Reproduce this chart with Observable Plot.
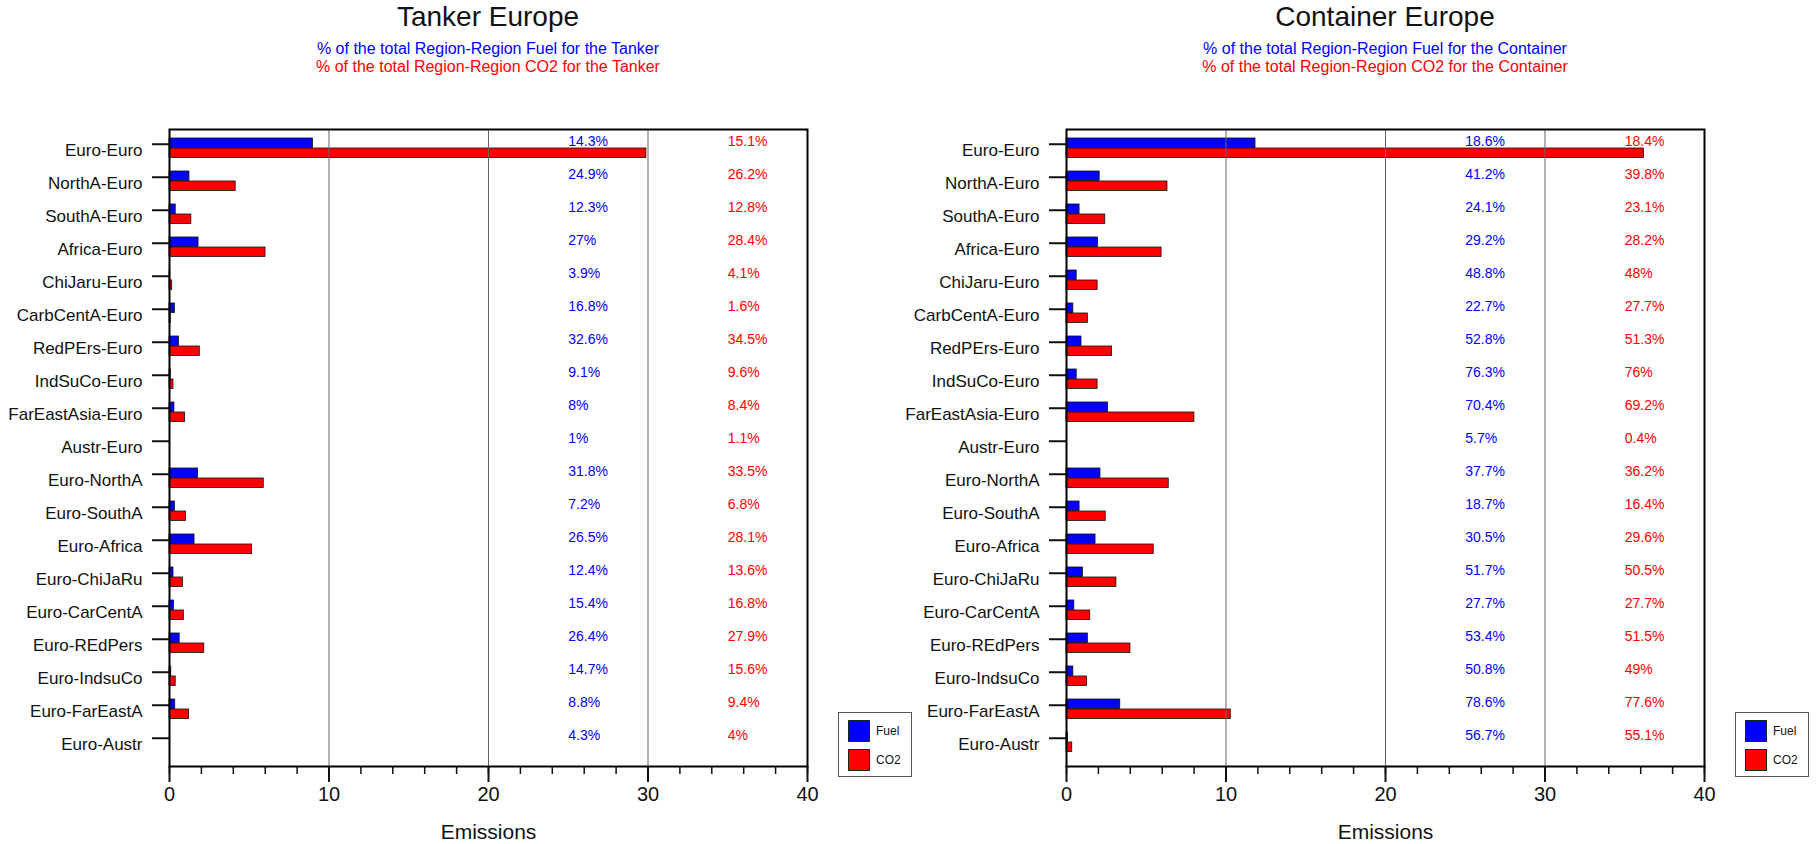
<!DOCTYPE html>
<html>
<head>
<meta charset="utf-8">
<script src="https://cdn.jsdelivr.net/npm/d3@7"></script>
<script src="https://cdn.jsdelivr.net/npm/@observablehq/plot@0.6"></script>
<style>
  body { margin: 0; background: #fff; font-family: "Liberation Sans", Arial, sans-serif; }
  #root { position: relative; width: 1816px; height: 844px; overflow: hidden; background: #fff; }
  .plot { position: absolute; top: 100px; }
  .ttl { position: absolute; width: 700px; text-align: center; white-space: nowrap; }
  .ttl.main { font-size: 28px; line-height: 28px; color: #111; }
  .ttl.sub { font-size: 16px; line-height: 16px; }
  .legend { position: absolute; width: 72px; height: 63px; border: 1px solid #555; background: #fff; }
  .legend .row { position: absolute; left: 9px; height: 23px; display: flex; align-items: center; font-size: 12px; color: #111; }
  .legend .sw { width: 22px; height: 22px; border: 1px solid #222; margin-right: 6px; box-sizing: border-box; }
</style>
</head>
<body>
<div id="root"></div>
<script>
// ---------------- data ----------------
const categories = ["Euro-Euro","NorthA-Euro","SouthA-Euro","Africa-Euro","ChiJaru-Euro","CarbCentA-Euro","RedPErs-Euro","IndSuCo-Euro","FarEastAsia-Euro","Austr-Euro","Euro-NorthA","Euro-SouthA","Euro-Africa","Euro-ChiJaRu","Euro-CarCentA","Euro-REdPers","Euro-IndsuCo","Euro-FarEastA","Euro-Austr"];

const tankerFuel = [9.0, 1.25, 0.39, 1.82, 0.05, 0.34, 0.59, 0.08, 0.31, 0, 1.79, 0.34, 1.57, 0.25, 0.28, 0.64, 0.11, 0.36, 0];
const tankerCO2  = [29.9, 4.15, 1.37, 6.02, 0.17, 0.08, 1.9, 0.25, 0.98, 0, 5.91, 1.04, 5.18, 0.84, 0.9, 2.18, 0.39, 1.23, 0];
const tankerFuelPct = [14.3, 24.9, 12.3, 27, 3.9, 16.8, 32.6, 9.1, 8, 1, 31.8, 7.2, 26.5, 12.4, 15.4, 26.4, 14.7, 8.8, 4.3];
const tankerCO2Pct  = [15.1, 26.2, 12.8, 28.4, 4.1, 1.6, 34.5, 9.6, 8.4, 1.1, 33.5, 6.8, 28.1, 13.6, 16.8, 27.9, 15.6, 9.4, 4];

const containerFuel = [11.85, 2.08, 0.82, 1.98, 0.64, 0.43, 0.94, 0.64, 2.61, 0, 2.13, 0.82, 1.82, 1.03, 0.49, 1.34, 0.43, 3.37, 0.09];
const containerCO2  = [36.2, 6.33, 2.43, 5.96, 1.95, 1.34, 2.86, 1.95, 8.02, 0, 6.41, 2.46, 5.47, 3.13, 1.49, 4.01, 1.28, 10.3, 0.36];
const containerFuelPct = [18.6, 41.2, 24.1, 29.2, 48.8, 22.7, 52.8, 76.3, 70.4, 5.7, 37.7, 18.7, 30.5, 51.7, 27.7, 53.4, 50.8, 78.6, 56.7];
const containerCO2Pct  = [18.4, 39.8, 23.1, 28.2, 48, 27.7, 51.3, 76, 69.2, 0.4, 36.2, 16.4, 29.6, 50.5, 27.7, 51.5, 49, 77.6, 55.1];

const xDomain = [0, 40];
const xTicks = [0, 10, 20, 30, 40];
const xMinorTicks = [0, 2, 4, 6, 8, 10, 12, 14, 16, 18, 20, 22, 24, 26, 28, 30, 32, 34, 36, 38, 40];
const gridTicks = [10, 20, 30];
const seriesNames = ["Fuel", "CO2"];
const seriesColors = ["#0000ff", "#ff0000"];
const fuelLabelX = 25;
const co2LabelX = 35;
const xLabel = "Emissions";

const panels = [
  {title: "Tanker Europe", ship: "Tanker", fuel: tankerFuel, co2: tankerCO2, fp: tankerFuelPct, cp: tankerCO2Pct, left: 0, marginLeft: 169, center: 488},
  {title: "Container Europe", ship: "Container", fuel: containerFuel, co2: containerCO2, fp: containerFuelPct, cp: containerCO2Pct, left: 908, marginLeft: 158, center: 1385}
];

// ---------------- drawing ----------------
const root = document.getElementById("root");
const W = 908, H = 744, plotW = 638, mTop = 29, mBottom = 78;
const innerH = H - mTop - mBottom;
const bw = innerH / categories.length;
const font = '"Liberation Sans", Arial, sans-serif';

for (const p of panels) {
  const rows = categories.map((c, i) => ({cat: c, fuel: p.fuel[i], co2: p.co2[i], fp: p.fp[i], cp: p.cp[i]}));
  const chart = Plot.plot({
    width: W, height: H,
    marginLeft: p.marginLeft, marginRight: W - p.marginLeft - plotW,
    marginTop: mTop, marginBottom: mBottom,
    style: {fontFamily: font, background: "transparent", color: "#111", overflow: "visible"},
    x: {domain: xDomain, label: null},
    y: {type: "band", domain: categories, padding: 0, label: null},
    marks: [
      Plot.barX(rows.filter(d => d.fuel > 0), {x: "fuel", y: "cat", fill: seriesColors[0], stroke: "#111", strokeWidth: 0.8, insetTop: 4, insetBottom: bw - 14}),
      Plot.barX(rows.filter(d => d.co2 > 0), {x: "co2", y: "cat", fill: seriesColors[1], stroke: "#111", strokeWidth: 0.8, insetTop: 14, insetBottom: bw - 24}),
      Plot.gridX(gridTicks, {stroke: "#666", strokeOpacity: 1, strokeWidth: 1}),
      Plot.text(rows, {x: fuelLabelX, y: "cat", text: d => d.fp + "%", fill: seriesColors[0], fontSize: 14, textAnchor: "start", dy: 7 - bw / 2}),
      Plot.text(rows, {x: co2LabelX, y: "cat", text: d => d.cp + "%", fill: seriesColors[1], fontSize: 14, textAnchor: "start", dy: 7 - bw / 2}),
      Plot.axisX({ticks: xMinorTicks, tickSize: 8, strokeWidth: 1.5, text: null, label: null}),
      Plot.axisX({ticks: xTicks, tickSize: 16, strokeWidth: 2, fontSize: 20, tickPadding: 4, label: null, tickFormat: d => String(d)}),
      Plot.axisY({tickSize: 0, tickPadding: 27, fontSize: 17, label: null}),
      Plot.axisY({tickSize: 17, strokeWidth: 2, text: null, label: null, dy: 10 - bw / 2}),
      Plot.frame({stroke: "#000", strokeWidth: 2}),
      Plot.text([xLabel], {frameAnchor: "bottom", text: d => d, dy: 65.5, fontSize: 21, lineAnchor: "middle", fill: "#111"})
    ]
  });
  chart.classList.add("plot");
  chart.style.left = p.left + "px";
  root.appendChild(chart);

  const t = document.createElement("div");
  t.className = "ttl main"; t.textContent = p.title;
  t.style.left = (p.center - 350) + "px"; t.style.top = "3px";
  root.appendChild(t);
  const s1 = document.createElement("div");
  s1.className = "ttl sub"; s1.textContent = "% of the total Region-Region Fuel for the " + p.ship;
  s1.style.left = (p.center - 350) + "px"; s1.style.top = "41px"; s1.style.color = seriesColors[0];
  root.appendChild(s1);
  const s2 = document.createElement("div");
  s2.className = "ttl sub"; s2.textContent = "% of the total Region-Region CO2 for the " + p.ship;
  s2.style.left = (p.center - 350) + "px"; s2.style.top = "59px"; s2.style.color = seriesColors[1];
  root.appendChild(s2);

  const lg = document.createElement("div");
  lg.className = "legend";
  lg.style.left = (p.left + p.marginLeft + plotW + 31) + "px";
  lg.style.top = "712px";
  seriesNames.forEach((n, i) => {
    const r = document.createElement("div");
    r.className = "row";
    r.style.top = (6 + i * 29) + "px";
    const sw = document.createElement("div");
    sw.className = "sw"; sw.style.background = seriesColors[i];
    const tx = document.createElement("span"); tx.textContent = n;
    r.appendChild(sw); r.appendChild(tx);
    lg.appendChild(r);
  });
  root.appendChild(lg);
}
</script>
</body>
</html>
